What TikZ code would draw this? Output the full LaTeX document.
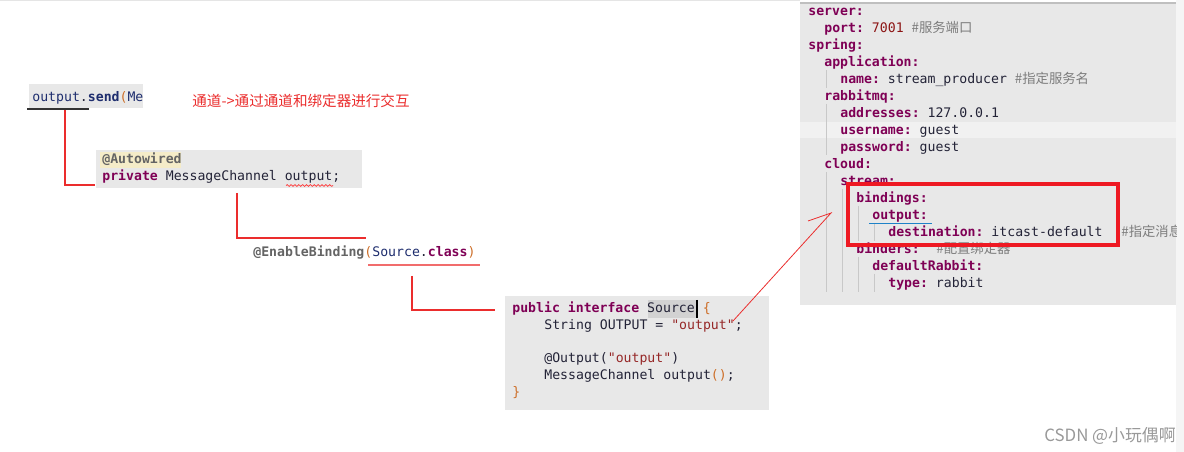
\documentclass[tikz,border=0pt]{standalone}
\usepackage{fontspec}
\setmainfont{DejaVu Sans}
\setmonofont{DejaVu Sans Mono}
\newfontfamily\cjk{Noto Sans CJK SC}
\usepackage{xcolor}
\usetikzlibrary{decorations.pathmorphing}

\definecolor{kwcol}{RGB}{127,0,85}
\definecolor{idcol}{RGB}{30,45,110}
\definecolor{txtcol}{RGB}{35,35,55}
\definecolor{parcol}{RGB}{205,110,40}
\definecolor{strcol}{RGB}{150,40,40}
\definecolor{anncol}{RGB}{100,100,100}
\definecolor{cmtcol}{RGB}{125,125,125}
\definecolor{numcol}{RGB}{140,20,20}
\definecolor{codebg}{RGB}{232,232,232}
\definecolor{rowbg}{RGB}{241,241,241}
\definecolor{srchl}{RGB}{210,210,210}
\definecolor{hlyellow}{RGB}{245,236,200}
\definecolor{linkred}{RGB}{235,45,45}
\definecolor{boxred}{RGB}{238,25,35}
\definecolor{ulblue}{RGB}{30,130,200}
\definecolor{guide}{RGB}{200,200,200}

\newcommand{\kwd}[1]{\textcolor{kwcol}{\textbf{#1}}}
\newcommand{\idf}[1]{\textcolor{idcol}{#1}}
\newcommand{\parn}[1]{\textcolor{parcol}{#1}}
\newcommand{\strg}[1]{\textcolor{strcol}{#1}}
\newcommand{\annot}[1]{\textcolor{anncol}{\textbf{#1}}}
\newcommand{\cmt}[1]{\textcolor{cmtcol}{{\cjk\fontsize{7.6}{9}\selectfont #1}}}

\begin{document}
\begin{tikzpicture}[x=0.02cm, y=-0.02cm,
	code/.style={font=\ttfamily\fontsize{7.5}{9}\selectfont, anchor=base west, inner sep=0pt, text=txtcol},
	link/.style={draw=linkred, line width=0.7pt},
	guideline/.style={draw=guide, line width=0.5pt}]
	\useasboundingbox (0,0) rectangle (1184,452);
	\fill[white] (0,0) rectangle (1184,452);
	\draw[gray!20] (0,0.5) -- (800,0.5);
	\fill[black!4] (1176,0) rectangle (1184,452);

	\fill[codebg] (29,84) rectangle (143,108);
	\node[code] (send) at (32,102) {\idf{output}.\textbf{\idf{send}}\parn{(}\idf{Me}};
	\draw[line width=0.7pt, black!80] (27,109) -- (89,109);
	\node[anchor=west, inner sep=0pt, text=linkred, font=\cjk\fontsize{8.3}{10}\selectfont] (note) at (192,101) {通道->通过通道和绑定器进行交互};

	\fill[codebg] (96,150) rectangle (362,188);
	\fill[hlyellow] (100,152) rectangle (181,168);
	\node[code] (autowired) at (102,164) {\annot{@Autowired}};
	\node[code] (field) at (102,181) {\kwd{private} MessageChannel output;};
	\draw[red!80, line width=0.4pt, decorate, decoration={snake, amplitude=0.5pt, segment length=2.2pt}] (286,185.5) -- (333,185.5);

	\node[code] (enable) at (253,257) {\annot{@EnableBinding}\parn{(}\idf{Source}.\kwd{class}\parn{)}};
	\draw[line width=1pt, linkred!70] (368,265) -- (480,265);

	\fill[codebg] (505,296) rectangle (769,410);
	\fill[srchl] (648,300) rectangle (697,318);
	\draw[black, line width=0.6pt] (697,300) -- (697,318);
	\node[code] (src1) at (512,313) {\kwd{public} \kwd{interface} Source \parn{\{}};
	\node[code] (src2) at (544,330) {String OUTPUT = \strg{"output"};};
	\node[code] (src3) at (544,363) {@Output(\strg{"output"})};
	\node[code] (src4) at (544,380) {MessageChannel output\parn{()};};
	\node[code] (src5) at (512,397) {\parn{\}}};

	\coordinate (sendtap) at (65,110);
	\coordinate (fieldin) at (95,185);
	\coordinate (fieldtap) at (237,193);
	\coordinate (enablein) at (366,238);
	\coordinate (enabletap) at (412,276);
	\coordinate (srcin) at (495,310);
	\draw[link] (sendtap) |- (fieldin);
	\draw[link] (fieldtap) |- (enablein);
	\draw[link] (enabletap) |- (srcin);

	\begin{scope}
		\clip (800,0) rectangle (1176,306);
		\fill[codebg] (800,3) rectangle (1176,305);
		\draw[black!25, line width=0.6pt] (800,3) -- (1176,3);
		\fill[rowbg] (800,122) rectangle (1176,138);
		\draw[guideline] (826,70) -- (826,88);
		\draw[guideline] (826,104) -- (826,155);
		\draw[guideline] (826,172) -- (826,292);
		\draw[guideline] (842,189) -- (842,292);
		\draw[guideline] (858,206) -- (858,241);
		\draw[guideline] (858,257) -- (858,292);
		\draw[guideline] (874,223) -- (874,241);
		\draw[guideline] (874,274) -- (874,292);
		\node[code] (y1) at (808,16) {\kwd{server:}};
		\node[code] (y2) at (824,33) {\kwd{port:} \textcolor{numcol}{7001} \cmt{\#服务端口}};
		\node[code] (y3) at (808,50) {\kwd{spring:}};
		\node[code] (y4) at (824,67) {\kwd{application:}};
		\node[code] (y5) at (840,84) {\kwd{name:} stream\_producer \cmt{\#指定服务名}};
		\node[code] (y6) at (824,101) {\kwd{rabbitmq:}};
		\node[code] (y7) at (840,118) {\kwd{addresses:} 127.0.0.1};
		\node[code] (y8) at (840,135) {\kwd{username:} guest};
		\node[code] (y9) at (840,152) {\kwd{password:} guest};
		\node[code] (y10) at (824,169) {\kwd{cloud:}};
		\node[code] (y11) at (840,186) {\kwd{stream:}};
		\node[code] (y12) at (856,203) {\kwd{bindings:}};
		\node[code] (y13) at (872,220) {\kwd{output:}};
		\node[code] (y14) at (888,237) {\kwd{destination:} itcast-default};
		\node[code] (y14c) at (1121,237) {\cmt{\#指定消息}};
		\node[code] (y15) at (856,254) {\kwd{binders:}};
		\node[code] (y15c) at (936,254) {\cmt{\#配置绑定器}};
		\node[code] (y16) at (872,271) {\kwd{defaultRabbit:}};
		\node[code] (y17) at (888,288) {\kwd{type:} rabbit};
	\end{scope}
	\draw[ulblue, line width=0.8pt] (869,223.5) -- (932,223.5);
	\draw[boxred, line width=1.8pt] (848,184) rectangle (1118,245);

	\coordinate (arrfrom) at (733,321);
	\coordinate (arrtip) at (831,213);
	\coordinate (arrbarb) at (808,221);
	\draw[linkred, line width=0.45pt] (arrfrom) -- (arrtip) -- (arrbarb);

	\node[anchor=east, inner sep=0pt, text=black!40, font=\cjk\fontsize{9.6}{11}\selectfont] (mark) at (1176,436) {CSDN @小玩偶啊};
\end{tikzpicture}
\end{document}
